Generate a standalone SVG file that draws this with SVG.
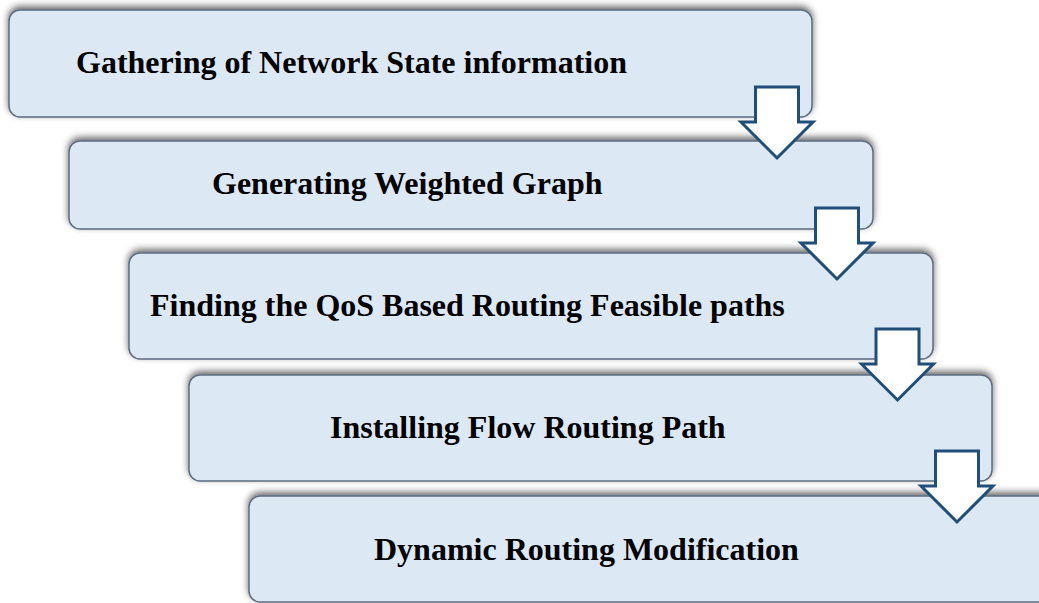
<svg xmlns="http://www.w3.org/2000/svg" width="1039" height="603" viewBox="0 0 1039 603">
  <defs>
    <filter id="shade" x="-5%" y="-30%" width="110%" height="160%">
      <feDropShadow dx="0" dy="-3" stdDeviation="3.5" flood-color="#000" flood-opacity="0.6"/>
    </filter>
    <path id="down-arrow" d="M-21.5,0 H21.5 V35 H36 L0,71 L-36,35 H-21.5 Z"/>
  </defs>
  <style>
    .step { fill: #dde8f5; stroke: #5b6b80; stroke-width: 1.5; filter: url(#shade); }
    .label { font-family: "Liberation Serif", "Times New Roman", serif; font-weight: bold; font-size: 32px; fill: #000; }
    .flow use { fill: #fff; stroke: #1f4e79; stroke-width: 3; stroke-linejoin: miter; }
  </style>

  <g id="step1">
    <rect class="step" x="9" y="10" width="803" height="107" rx="11"/>
    <text class="label" x="76" y="73">Gathering of Network State information</text>
  </g>
  <g id="step2">
    <rect class="step" x="69" y="141" width="804" height="88" rx="11"/>
    <text class="label" x="212" y="194">Generating Weighted Graph</text>
  </g>
  <g id="step3">
    <rect class="step" x="129" y="253" width="804" height="106" rx="11"/>
    <text class="label" x="150" y="316">Finding the QoS Based Routing Feasible paths</text>
  </g>
  <g id="step4">
    <rect class="step" x="189" y="375" width="803" height="106" rx="11"/>
    <text class="label" x="330" y="438">Installing Flow Routing Path</text>
  </g>
  <g id="step5">
    <rect class="step" x="249" y="496" width="810" height="106" rx="11"/>
    <text class="label" x="374" y="560">Dynamic Routing Modification</text>
  </g>

  <g id="connectors" class="flow">
    <use href="#down-arrow" transform="translate(777,87)"/>
    <use href="#down-arrow" transform="translate(837,208)"/>
    <use href="#down-arrow" transform="translate(897.5,329)"/>
    <use href="#down-arrow" transform="translate(957,451)"/>
  </g>
</svg>
